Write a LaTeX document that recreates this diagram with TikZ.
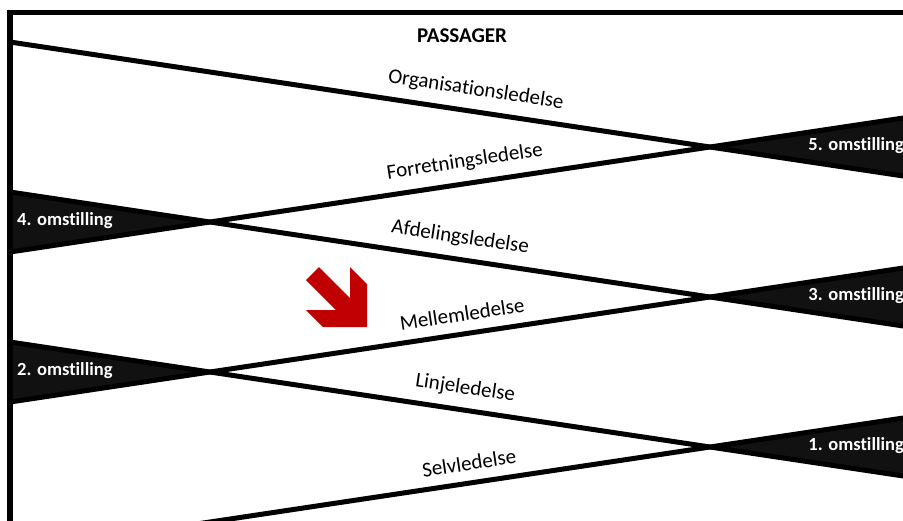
\documentclass[tikz,border=0pt]{standalone}
\usepackage{fontspec}
\setmainfont{Carlito}[Ligatures={NoCommon,NoRare}]
\definecolor{wedgegray}{HTML}{111111}
\definecolor{arrowred}{HTML}{C00000}
\begin{document}
\begin{tikzpicture}[x=1pt,y=-1pt,
  band/.style={line width=5pt,black},
  wedge/.style={fill=wedgegray},
  lvl/.style={font=\fontsize{21}{25}\selectfont, sloped, above=10pt, inner sep=0pt},
  stage/.style={font=\bfseries\fontsize{18.5}{22}\selectfont, text=white, inner sep=0pt},
  frame/.style={line width=5.5pt, line join=miter}]
\useasboundingbox (0,0) rectangle (903,520);
\clip (0,0) rectangle (903,520);
% crossings
\coordinate (c5) at (710,147);
\coordinate (c4) at (210,222);
\coordinate (c3) at (710,297);
\coordinate (c2) at (210,372);
\coordinate (c1) at (710,447);
% line ends
\coordinate (L1a) at (10,42);   \coordinate (L1b) at (920,178.5);
\coordinate (L2a) at (10,252);  \coordinate (L2b) at (920,115.5);
\coordinate (L3a) at (10,192);  \coordinate (L3b) at (920,328.5);
\coordinate (L4a) at (10,402);  \coordinate (L4b) at (920,265.5);
\coordinate (L5a) at (10,342);  \coordinate (L5b) at (920,478.5);
\coordinate (L6a) at (10,552);  \coordinate (L6b) at (920,415.5);
% wedges
\fill[wedge] (c5) -- (L2b) -- (L1b) -- cycle;
\fill[wedge] (c3) -- (L4b) -- (L3b) -- cycle;
\fill[wedge] (c1) -- (L6b) -- (L5b) -- cycle;
\fill[wedge] (c4) -- (L3a) -- (L2a) -- cycle;
\fill[wedge] (c2) -- (L5a) -- (L4a) -- cycle;
% lines
\draw[band] (L1a) -- node[lvl,pos=0.661] (t1) {Organisationsledelse} (c5) -- (L1b);
\draw[band] (L2a) -- (c4) -- node[lvl,pos=0.516] (t2) {Forretningsledelse} (c5) -- (L2b);
\draw[band] (L3a) -- (c4) -- node[lvl,pos=0.494] (t3) {Afdelingsledelse} (c3) -- (L3b);
\draw[band] (L4a) -- (c2) -- node[lvl,pos=0.51] (t4) {Mellemledelse} (c3) -- (L4b);
\draw[band] (L5a) -- (c2) -- node[lvl,pos=0.504] (t5) {Linjeledelse} (c1) -- (L5b);
\draw[band] (L6a) -- node[lvl,pos=0.66] (t6) {Selvledelse} (c1) -- (L6b);
% frame
\draw[frame] (10,530) -- (10,12.5) -- (920,12.5);
% stage labels
\node[stage, anchor=mid east] (s5) at (904,148) {5. omstilling};
\node[stage, anchor=mid east] (s3) at (904,298) {3. omstilling};
\node[stage, anchor=mid east] (s1) at (904,448) {1. omstilling};
\node[stage, anchor=mid west] (s4) at (17,223) {4. omstilling};
\node[stage, anchor=mid west] (s2) at (17,373) {2. omstilling};
% title
\node[font=\bfseries\fontsize{21}{25}\selectfont, anchor=base, inner sep=0pt] (title) at (462,42) {PASSAGER};
% red arrow
\fill[arrowred] (319,267) -- (350,298) -- (350,267) -- (367,284) -- (367,327) -- (323,327) -- (306,310) -- (336,310) -- (306,280) -- cycle;
\end{tikzpicture}
\end{document}
